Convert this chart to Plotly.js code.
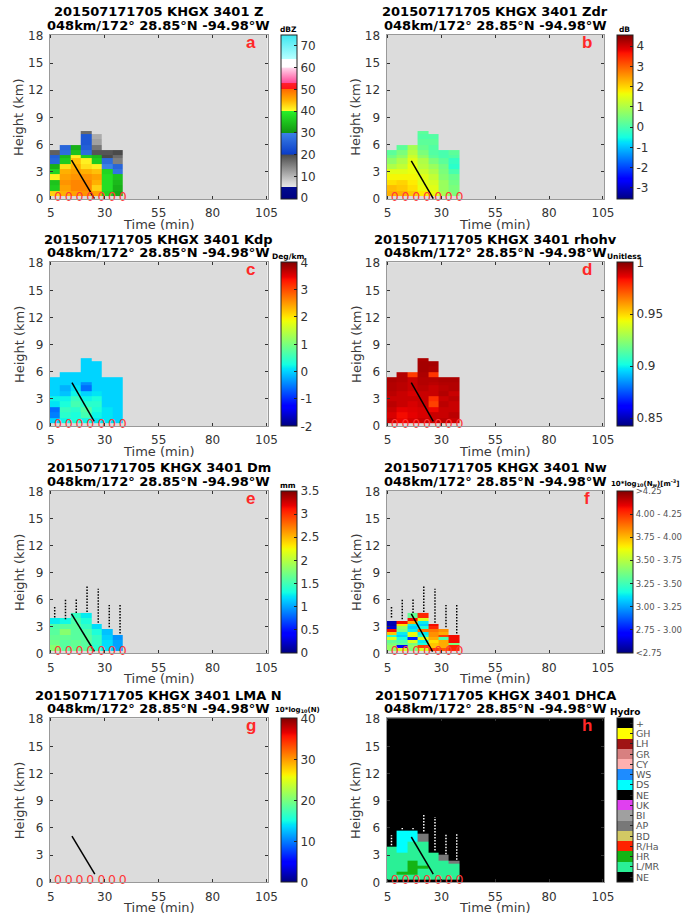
<!DOCTYPE html>
<html><head><meta charset="utf-8">
<script src="https://cdn.plot.ly/plotly-3.0.1.min.js"></script>
<style>html,body{margin:0;padding:0;background:#fff}</style>
</head><body><div id="chart" style="width:686px;height:919px"></div>
<script>
// ---------------- DATA ----------------
const timeEdges = [4.5, 9.2, 14.2, 18.9, 23.8, 28.5, 33.5, 38.3];     // column boundaries (min)
const gridEdges = [0.3, 0.9, 1.5, 2.1, 2.7, 3.3, 3.9, 4.5, 4.9, 5.4, 6.0, 6.6, 7.2, 7.5]; // km
const nwEdges = [0.3,0.6,0.9,1.2,1.5,1.8,2.1,2.4,2.7,3.0,3.3,3.6,3.9,4.2,4.5];
const hcaEdges = [0.3,0.6,0.9,1.2,1.5,1.8,2.1,2.4,2.7,3.0,3.3,3.6,3.9,4.2,4.5,4.8,5.1,5.4,5.7];
const n = null;

// Reflectivity Z (dBZ), rows bottom -> top, 7 columns
const reflZ = [
 [43,45,46,47,46,37,32],
 [36,46,48,48,43,38,33],
 [35,47,48,48,45,38,34],
 [41,46,47,47,46,38,35],
 [37,45,46,45,44,37,28],
 [33,42,45,42,41,30,26],
 [26,36,44,41,36,27,15],
 [25,34,41,36,34,20,17],
 [18,27,35,27,19,19,20],
 [n,26,33,25,16,n,n],
 [n,n,n,24,12,n,n],
 [n,n,n,24,11,n,n],
 [n,n,n,17,n,n,n]
];
// Differential reflectivity Zdr (dB)
const zdr = [
 [2.3,2.3,2.1,1.8,1.6,0.9,0.5],
 [2.2,2.1,1.9,1.6,1.5,0.8,0.5],
 [1.9,2.0,1.8,1.5,1.4,0.8,0.4],
 [1.7,1.7,1.7,1.5,1.2,0.6,0.3],
 [1.5,1.5,1.6,1.3,1.0,0.5,0.0],
 [1.0,1.2,1.6,1.1,0.8,0.4,-0.3],
 [0.7,1.0,1.5,1.0,0.5,0.2,-0.2],
 [0.4,0.7,1.3,0.7,0.2,0.0,0.1],
 [0.2,0.5,1.1,0.5,0.1,0.0,0.2],
 [n,0.2,0.9,0.3,0.1,n,n],
 [n,n,n,0.2,0.2,n,n],
 [n,n,n,0.1,0.1,n,n],
 [n,n,n,0.2,n,n,n]
];
// Specific differential phase Kdp (deg/km)
const kdp = [
 [0.0,0.2,0.3,0.2,0.1,0.1,0.0],
 [-0.5,0.4,0.3,0.6,0.2,0.1,0.0],
 [-0.6,0.5,0.4,0.7,0.3,0.1,0.0],
 [0.1,0.3,0.6,0.4,0.4,0.0,0.0],
 [0.2,0.2,0.5,0.2,0.3,0.0,0.0],
 [0.0,-0.1,0.2,0.0,0.1,0.0,0.0],
 [0.0,-0.2,0.1,-0.6,0.0,0.0,0.0],
 [0.0,0.0,0.0,-0.4,0.0,0.0,0.0],
 [0.0,0.0,0.0,0.0,0.0,0.0,0.0],
 [n,0.0,0.0,0.0,0.0,n,n],
 [n,n,n,0.0,0.0,n,n],
 [n,n,n,0.0,0.0,n,n],
 [n,n,n,0.0,n,n,n]
];
// Correlation coefficient rhohv
const rhohv = [
 [0.99,0.985,0.988,0.99,0.99,0.992,0.99],
 [0.988,0.984,0.986,0.988,0.99,0.99,0.992],
 [0.99,0.986,0.987,0.988,0.985,0.99,0.99],
 [0.992,0.99,0.988,0.99,0.975,0.992,0.99],
 [0.99,0.99,0.99,0.99,0.978,0.99,0.992],
 [0.992,0.99,0.988,0.99,0.99,0.993,0.99],
 [0.993,0.992,0.99,0.992,0.99,0.992,0.993],
 [0.993,0.992,0.99,0.993,0.992,0.993,0.993],
 [0.994,0.993,0.99,0.993,0.993,0.994,0.994],
 [n,0.993,0.976,0.994,0.977,n,n],
 [n,n,n,0.995,0.994,n,n],
 [n,n,n,0.995,0.995,n,n],
 [n,n,n,0.994,n,n,n]
];
// Mass-weighted mean diameter Dm (mm)
const dm = [
 [1.8,1.6,1.65,1.6,1.4,1.2,1.0],
 [1.7,1.6,1.65,1.6,1.45,1.2,1.0],
 [1.65,1.65,1.6,1.6,1.45,1.15,0.95],
 [1.6,1.8,1.6,1.55,1.35,1.1,n],
 [1.55,1.6,1.6,1.45,1.2,n,n],
 [1.25,1.3,1.55,1.35,n,n,n],
 [n,n,1.45,1.25,n,n,n]
];
// Normalized intercept Nw (log10)
const nw = [
 [3.55,3.7,3.5,3.7,4.1,4.05,4.15],
 [3.55,2.85,3.55,4.1,3.85,3.9,4.15],
 [3.5,3.45,3.5,3.3,3.85,3.9,3.5],
 [3.45,3.4,3.7,3.25,3.8,3.9,4.2],
 [3.7,3.3,2.9,3.7,3.9,3.4,4.2],
 [3.3,3.2,3.7,3.3,3.95,4.1,4.2],
 [3.85,3.25,3.75,3.25,3.95,3.9,n],
 [4.2,3.5,3.25,4.0,4.0,3.95,n],
 [2.75,3.55,3.2,3.3,4.15,n,n],
 [2.7,3.8,3.25,3.2,4.2,n,n],
 [2.7,4.2,3.9,3.25,n,n,n],
 [n,n,4.2,3.7,n,n,n],
 [n,n,3.45,4.15,n,n,n],
 [n,n,3.45,4.15,n,n,n]
];
// LMA source counts 10*log10(N): no sources
const lmaLog = [[n,n,n,n,n,n,n]];
// Hydrometeor class index (0 NE,1 L/MR,2 HR,5 AP,9 DS)
const dhca = [
 [1,1,1,1,1,1,1],
 [1,1,1,1,1,1,1],
 [1,2,2,1,1,1,1],
 [1,1,2,1,1,1,1],
 [1,1,2,2,1,1,1],
 [1,1,2,1,1,1,1],
 [1,1,2,1,1,1,5],
 [1,1,1,1,1,5,n],
 [1,1,1,1,1,5,n],
 [1,1,1,1,1,n,n],
 [1,9,1,1,n,n,n],
 [1,9,1,1,n,n,n],
 [n,9,1,1,n,n,n],
 [n,9,1,1,n,n,n],
 [n,9,9,5,n,n,n],
 [n,9,9,5,n,n,n],
 [n,9,9,5,n,n,n],
 [n,9,9,n,n,n,n]
];
const hydroLabels = ['NE','L/MR','HR','R/Ha','BD','AP','BI','UK','NE','DS','WS','CY','GR','LH','GH','+'];
const hydroColors = ['#000000','#2af096','#14b414','#ff2200','#d2c864','#787878','#a0a0a0','#e040f0','#000000','#00ffff','#1e8cff','#ffb0b0','#d88080','#a01414','#ffff00','#000000'];

// lightning flash counts shown along the bottom
const flashTimes = [8.3, 13.3, 18.3, 23.3, 28.5, 33.4, 38.4];
const flashCounts = [0,0,0,0,0,0,0];
// echo-top dotted markers
const dotTimes = [6.8, 11.8, 16.8, 21.8, 27.0, 32.1, 37.1];
const dotTop = [5.2, 6.0, 6.0, 7.5, 7.2, 5.4, 5.4];
const dmDotBase = [4.0, 3.8, 4.5, 4.6, 3.4, 2.9, 2.2];
const hcaDotBase = [4.1, 5.85, 5.85, 5.6, 3.5, 3.1, 2.5];
// storm track line (time, height) per panel
const trackA = {t:[14.6,25.2], h:[4.3,0.05]};
const trackB = {t:[16.0,26.2], h:[4.2,0.05]};
const trackC = {t:[14.8,25.1], h:[4.8,0.5]};
const trackD = {t:[16.0,26.2], h:[4.8,0.5]};
const trackE = {t:[14.6,25.2], h:[4.4,0.2]};
const trackF = {t:[16.0,25.9], h:[4.4,0.2]};
const trackG = {t:[14.8,25.4], h:[5.1,0.9]};
const trackH = {t:[16.0,26.2], h:[5.0,0.9]};

const xTicks = [5,30,55,80,105];
const yTicks = [0,3,6,9,12,15,18];
const nwTickVals = [2.625,2.875,3.125,3.375,3.625,3.875,4.125,4.375];
const nwTickText = ['<2.75','2.75 - 3.00','3.00 - 3.25','3.25 - 3.50','3.50 - 3.75','3.75 - 4.00','4.00 - 4.25','>4.25'];

// ---------------- STYLE ----------------
const W=686, H=919;
const FONT='DejaVu Sans, sans-serif';
const colLeft=[50.7,394], colRight=[272.7,615.7], cbLeft=[286,629];
const rowTop=[35,262.3,491,718.3], rowBottom=[199,426,653.3,882.3];

const jet = [[0,'rgb(0,0,128)'],[0.11,'rgb(0,0,255)'],[0.125,'rgb(0,0,255)'],[0.34,'rgb(0,219,255)'],[0.35,'rgb(0,229,246)'],[0.375,'rgb(20,255,226)'],[0.5,'rgb(123,255,123)'],[0.64,'rgb(238,255,8)'],[0.66,'rgb(255,236,0)'],[0.89,'rgb(255,19,0)'],[0.91,'rgb(232,0,0)'],[1,'rgb(128,0,0)']];
const zMin=-0.4, zMax=75;
const zStops = [[-0.4,'#000080'],[5,'#000a90'],[5.1,'#e6e6e6'],[7.7,'#d0d0d0'],[20,'#4a4a4a'],[20.1,'#0a3cc8'],[30,'#3c82e6'],[30.1,'#129612'],[40,'#28f028'],[40.1,'#ffff28'],[45,'#ffb000'],[50,'#ff6a00'],[50.2,'#ff1414'],[53,'#ff2030'],[53.1,'#ff4c9a'],[60,'#ffd8ec'],[60.1,'#ffffff'],[64,'#ffffff'],[64.1,'#b4ffff'],[75,'#3ce6f0']];
const zScale = zStops.map(s=>[(s[0]-zMin)/(zMax-zMin), s[1]]);
const hydroScale = [];
hydroColors.forEach((c,k)=>{hydroScale.push([k/16,c]);hydroScale.push([(k+1)/16,c]);});
const plain = v => v.map(String); // hyphen-minus labels like the original

const panels = [
 {name:'Z', z:reflZ, y:gridEdges, cs:zScale, zmin:zMin, zmax:zMax, tv:[0,10,20,30,40,50,60,70], unit:'dBZ', letter:'a', track:trackA},
 {name:'Zdr', z:zdr, y:gridEdges, cs:jet, zmin:-3.55, zmax:4.55, tv:[-3,-2,-1,0,1,2,3,4], unit:'dB', letter:'b', track:trackB},
 {name:'Kdp', z:kdp, y:gridEdges, cs:jet, zmin:-2, zmax:4, tv:[-2,-1,0,1,2,3,4], unit:'Deg/km', letter:'c', track:trackC},
 {name:'rhohv', z:rhohv, y:gridEdges, cs:jet, zmin:0.842, zmax:1.0, tv:[0.85,0.9,0.95,1], unit:'Unitless', letter:'d', track:trackD},
 {name:'Dm', z:dm, y:gridEdges.slice(0,8), cs:jet, zmin:0, zmax:3.5, tv:[0,0.5,1,1.5,2,2.5,3,3.5], unit:'mm', letter:'e', track:trackE, dots:dmDotBase, dotColor:'black'},
 {name:'Nw', z:nw, y:nwEdges, cs:jet, zmin:2.625, zmax:4.375, tv:nwTickVals, tt:nwTickText, tsize:8.5, unit:'10*log<sub>10</sub>(N<sub>w</sub>)[m<sup>-3</sup>]', unitLeft:true, letter:'f', track:trackF, dots:dmDotBase, dotColor:'black'},
 {name:'LMA N', z:lmaLog, y:gridEdges.slice(0,2), cs:jet, zmin:0, zmax:40, tv:[0,10,20,30,40], unit:'10*log<sub>10</sub>(N)', unitLeft:true, letter:'g', track:trackG, scaleOnCounts:true},
 {name:'DHCA', z:dhca, y:hcaEdges, cs:hydroScale, zmin:-0.5, zmax:15.5, tv:hydroLabels.map((_,k)=>k), tt:hydroLabels, tsize:9.5, unit:'Hydro', letter:'h', track:trackH, dots:hcaDotBase, dotColor:'white', bg:'black'}
];

const data=[], annotations=[], shapes=[];
const layout = {width:W, height:H, margin:{l:0,r:0,t:0,b:0}, paper_bgcolor:'white', showlegend:false, font:{family:FONT}};

panels.forEach((p,i)=>{
  const col=i%2, row=Math.floor(i/2);
  const ax = i===0?'':String(i+1);
  const L=colLeft[col], R=colRight[col], T=rowTop[row], B=rowBottom[row];
  layout['xaxis'+ax] = {domain:[L/W,R/W], anchor:'y'+ax, range:[4.5,105.5], tickvals:xTicks, ticks:'inside', ticklen:3, tickcolor:'#333',
    showline:true, linecolor:'#999', linewidth:1, mirror:'ticks', showgrid:false, zeroline:false,
    tickfont:{family:FONT,size:12,color:'#333'}, ticklabelstandoff:3, fixedrange:true};
  layout['yaxis'+ax] = {domain:[1-B/H,1-T/H], anchor:'x'+ax, range:[0,18.1], tickvals:yTicks, ticks:'inside', ticklen:3, tickcolor:'#333',
    showline:true, linecolor:'#999', linewidth:1, mirror:'ticks', showgrid:false, zeroline:false,
    tickfont:{family:FONT,size:12,color:'#333'}, ticklabelstandoff:3, fixedrange:true};
  shapes.push({type:'rect', xref:'x'+ax+' domain', yref:'y'+ax+' domain', x0:0,x1:1,y0:0,y1:1, fillcolor:p.bg||'rgb(220,220,220)', line:{width:0}, layer:'below'});

  const cb = {x:cbLeft[col]/W, xanchor:'left', xpad:0, xref:'paper', y:1-T/H, yanchor:'top', ypad:0, yref:'paper',
    len:B-T, lenmode:'pixels', thickness:16, thicknessmode:'pixels', outlinewidth:1, outlinecolor:'#222',
    ticks:'inside', ticklen:3, tickcolor:'#222', tickvals:p.tv, ticktext:p.tt||plain(p.tv),
    tickfont:{family:FONT,size:p.tsize||12,color:p.tsize?'#555':'#333'}};
  data.push({type:'heatmap', x:timeEdges, y:p.y, z:p.z, colorscale:p.cs, zmin:p.zmin, zmax:p.zmax, zauto:false,
    showscale:!p.scaleOnCounts, colorbar:cb, xaxis:'x'+ax, yaxis:'y'+ax, hoverinfo:'skip'});

  if(p.dots){
    const dx=[], dy=[];
    dotTimes.forEach((t,k)=>{dx.push(t,t,null); dy.push(p.dots[k],dotTop[k],null);});
    data.push({type:'scatter', mode:'lines', x:dx, y:dy, line:{color:p.dotColor, width:1.5, dash:'1.5px,1.5px'}, xaxis:'x'+ax, yaxis:'y'+ax, hoverinfo:'skip'});
  }
  data.push({type:'scatter', mode:'lines', x:p.track.t, y:p.track.h, line:{color:'black', width:1.5}, xaxis:'x'+ax, yaxis:'y'+ax, hoverinfo:'skip'});
  const txt = {type:'scatter', mode:'text', x:flashTimes, y:flashCounts.map(()=>0.15), text:flashCounts.map(String),
    textposition:'middle center', textfont:{family:FONT,size:12.5,color:'rgb(255,55,55)'}, xaxis:'x'+ax, yaxis:'y'+ax, hoverinfo:'skip', cliponaxis:false};
  if(p.scaleOnCounts){
    // LMA panel: counts coloured on the 10*log10(N) scale (markers hidden, only colour bar shown)
    txt.mode='text+markers';
    txt.marker={color:flashCounts, colorscale:p.cs, cmin:p.zmin, cmax:p.zmax, size:1, opacity:0, showscale:true, colorbar:cb};
  }
  data.push(txt);

  const cx=(L+R)/2/W;
  annotations.push({xref:'paper',yref:'paper',x:cx,y:1-(T-23.3)/H,xanchor:'center',yanchor:'middle',showarrow:false,
    text:'<b>201507171705 KHGX 3401 '+p.name+'</b>', font:{family:FONT,size:13,color:'black'}});
  annotations.push({xref:'paper',yref:'paper',x:cx,y:1-(T-10)/H,xanchor:'center',yanchor:'middle',showarrow:false,
    text:'<b>048km/172° 28.85°N -94.98°W</b>', font:{family:FONT,size:13,color:'black'}});
  annotations.push({xref:'paper',yref:'paper',x:(L-31.4)/W,y:1-(T+B)/2/H,xanchor:'center',yanchor:'middle',showarrow:false,textangle:-90,
    text:'Height (km)', font:{family:FONT,size:13,color:'#3a3a3a'}});
  annotations.push({xref:'paper',yref:'paper',x:cx,y:1-(B+25.5)/H,xanchor:'center',yanchor:'middle',showarrow:false,
    text:'Time (min)', font:{family:FONT,size:13,color:'#3a3a3a'}});
  annotations.push({xref:'paper',yref:'paper',x:(R-17)/W,y:1-(T+7)/H,xanchor:'center',yanchor:'middle',showarrow:false,
    text:'<b>'+p.letter+'</b>', font:{family:'Liberation Sans, sans-serif',size:17,color:'rgb(255,40,40)'}});
  if(p.unitLeft){
    annotations.push({xref:'paper',yref:'paper',x:(cbLeft[col]-8)/W,y:1-(T-8)/H,xanchor:'left',yanchor:'middle',showarrow:false,
      text:'<b>'+p.unit+'</b>', font:{family:FONT,size:7,color:'black'}});
  } else {
    annotations.push({xref:'paper',yref:'paper',x:(cbLeft[col]+8)/W,y:1-(T-6)/H,xanchor:'center',yanchor:'middle',showarrow:false,
      text:'<b>'+p.unit+'</b>', font:{family:FONT,size:p.unit==='Hydro'?9:7.5,color:'black'}});
  }
});
layout.shapes = shapes;
layout.annotations = annotations;
Plotly.newPlot('chart', data, layout, {staticPlot:true, displayModeBar:false});
</script></body></html>
